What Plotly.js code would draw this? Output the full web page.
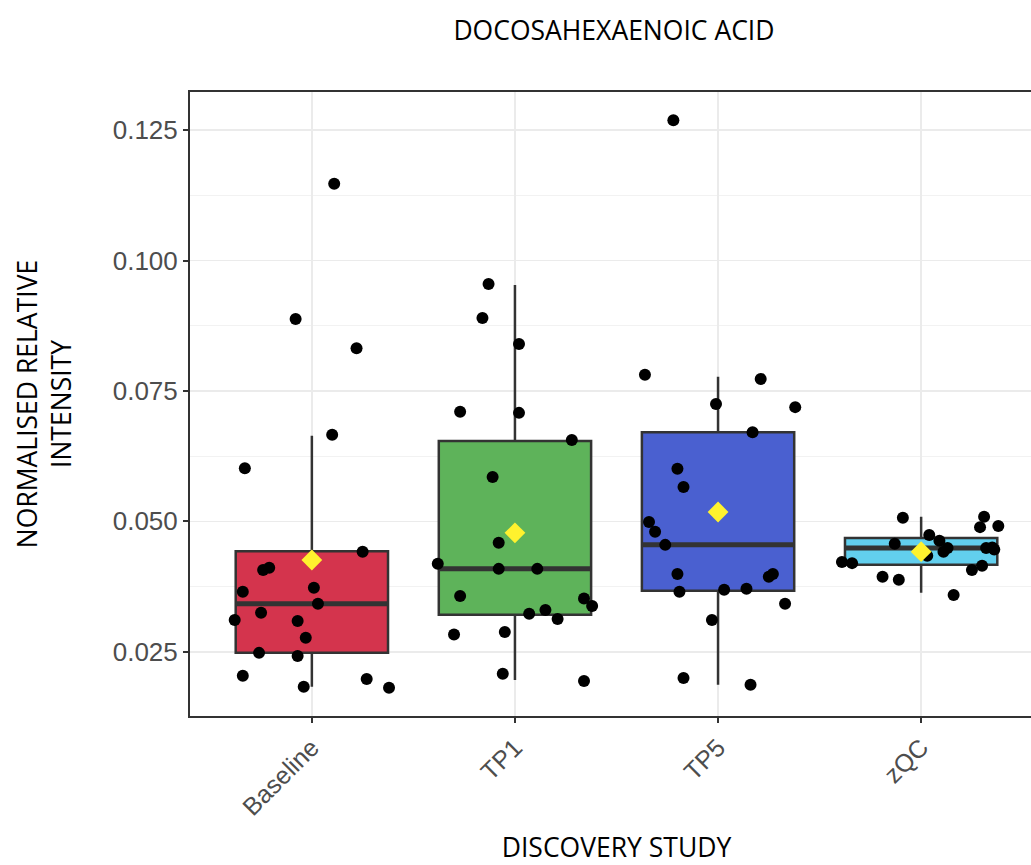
<!DOCTYPE html>
<html>
<head>
<meta charset="utf-8">
<script src="https://cdn.plot.ly/plotly-3.0.1.min.js"></script>
<style>
html, body { margin: 0; padding: 0; overflow: hidden; background: #fff; }
#chart { width: 1045px; height: 865px; }
</style>
</head>
<body>
<div id="chart"></div>
<script>
// Categories and tick labels
const categories = ["Baseline", "TP1", "TP5", "zQC"];
const boxColors = ["#D4344D", "#5EB35A", "#4A60D0", "#62CFEE"];

// Box summary statistics
const q1Values     = [0.0248, 0.0321, 0.0367, 0.0417];
const medianValues = [0.0342, 0.0409, 0.0455, 0.0449];
const q3Values     = [0.0443, 0.0654, 0.0671, 0.0468];
const lowerWhisker = [0.0183, 0.0196, 0.0187, 0.0363];
const upperWhisker = [0.0664, 0.0953, 0.0777, 0.0509];
const meanValues   = [0.0426, 0.0478, 0.0518, 0.0442];

// Individual samples (values) and their horizontal jitter offsets (category units)
const baselineValues = [0.1147, 0.0888, 0.0832, 0.0666, 0.0602, 0.0442, 0.0407, 0.0411, 0.0365, 0.0373, 0.0342,
                        0.0325, 0.0311, 0.0309, 0.0277, 0.0248, 0.0242, 0.0204, 0.0183, 0.0198, 0.0181];
const baselineJitter = [0.11, -0.08, 0.22, 0.10, -0.33, 0.25, -0.24, -0.21, -0.34, 0.01, 0.03,
                        -0.25, -0.38, -0.07, -0.03, -0.26, -0.07, -0.34, -0.04, 0.27, 0.38];

const tp1Values = [0.0955, 0.0890, 0.0840, 0.0710, 0.0708, 0.0656, 0.0585, 0.0459, 0.0419, 0.0409, 0.0409,
                   0.0357, 0.0352, 0.0338, 0.0323, 0.0330, 0.0313, 0.0283, 0.0288, 0.0208, 0.0194];
const tp1Jitter = [-0.13, -0.16, 0.02, -0.27, 0.02, 0.28, -0.11, -0.08, -0.38, -0.08, 0.11,
                   -0.27, 0.34, 0.38, 0.07, 0.15, 0.21, -0.30, -0.05, -0.06, 0.34];

const tp5Values = [0.1269, 0.0781, 0.0773, 0.0725, 0.0719, 0.0671, 0.0601, 0.0566, 0.0499, 0.0480, 0.0455,
                   0.0399, 0.0365, 0.0369, 0.0371, 0.0394, 0.0399, 0.0342, 0.0311, 0.0200, 0.0187];
const tp5Jitter = [-0.22, -0.36, 0.21, -0.01, 0.38, 0.17, -0.20, -0.17, -0.34, -0.31, -0.26,
                   -0.20, -0.19, 0.03, 0.14, 0.25, 0.27, 0.33, -0.03, -0.17, 0.16];

const zqcValues = [0.0507, 0.0509, 0.0489, 0.0491, 0.0474, 0.0463, 0.0449, 0.0442, 0.0457, 0.0434,
                   0.0449, 0.0450, 0.0422, 0.0420, 0.0407, 0.0415, 0.0394, 0.0388, 0.0359, 0.0446];
const zqcJitter = [-0.09, 0.31, 0.29, 0.38, 0.04, 0.09, 0.13, 0.11, -0.13, 0.03,
                   0.32, 0.35, -0.39, -0.34, 0.25, 0.30, -0.19, -0.11, 0.16, 0.36];

const sampleValues = [baselineValues, tp1Values, tp5Values, zqcValues];
const sampleJitter = [baselineJitter, tp1Jitter, tp5Jitter, zqcJitter];

const yTickVals = [0.025, 0.050, 0.075, 0.100, 0.125];
const yTickText = ["0.025", "0.050", "0.075", "0.100", "0.125"];

const BOX_WIDTH = 0.75;
const traces = [];

// Boxes
categories.forEach((cat, i) => {
  traces.push({
    type: "box",
    name: cat,
    x: [i],
    q1: [q1Values[i]],
    median: [medianValues[i]],
    q3: [q3Values[i]],
    lowerfence: [lowerWhisker[i]],
    upperfence: [upperWhisker[i]],
    width: BOX_WIDTH,
    whiskerwidth: 0,
    boxpoints: false,
    fillcolor: boxColors[i],
    line: { color: "#333333", width: 2.5 },
    hoverinfo: "skip",
    showlegend: false
  });
});

// Thick median lines (ggplot style)
categories.forEach((cat, i) => {
  traces.push({
    type: "scatter",
    mode: "lines",
    x: [i - BOX_WIDTH / 2, i + BOX_WIDTH / 2],
    y: [medianValues[i], medianValues[i]],
    line: { color: "#333333", width: 5 },
    hoverinfo: "skip",
    showlegend: false
  });
});

// Jittered sample points
categories.forEach((cat, i) => {
  traces.push({
    type: "scatter",
    mode: "markers",
    x: sampleValues[i].map((v, k) => i + sampleJitter[i][k]),
    y: sampleValues[i],
    marker: { color: "#000000", size: 12 },
    hoverinfo: "y",
    showlegend: false
  });
});

// Mean diamonds
traces.push({
  type: "scatter",
  mode: "markers",
  x: categories.map((c, i) => i),
  y: meanValues,
  marker: { color: "#FFF22E", size: 16, symbol: "diamond" },
  hoverinfo: "y",
  showlegend: false
});

const titleFont = { family: "Open Sans, sans-serif", size: 26.5, color: "#000000" };

const layout = {
  width: 1045,
  height: 865,
  paper_bgcolor: "#ffffff",
  plot_bgcolor: "#ffffff",
  margin: { l: 190, r: 2, t: 92, b: 149 },
  title: {
    text: "DOCOSAHEXAENOIC ACID",
    font: titleFont,
    x: 0.5875,
    xanchor: "center",
    y: 0.965,
    yanchor: "middle"
  },
  xaxis: {
    range: [-0.6, 3.6],
    tickmode: "array",
    tickvals: categories.map((c, i) => i),
    ticktext: categories,
    tickangle: -45,
    tickfont: { family: "Liberation Sans, Arial, sans-serif", size: 25, color: "#4D4D4D" },
    ticks: "outside",
    ticklen: 5,
    tickwidth: 2,
    tickcolor: "#333333",
    showgrid: true,
    gridcolor: "#EBEBEB",
    gridwidth: 1.5,
    zeroline: false,
    showline: true,
    linecolor: "#333333",
    linewidth: 2,
    mirror: true,
    title: { text: "DISCOVERY STUDY", font: titleFont, standoff: 26 }
  },
  yaxis: {
    range: [0.0127, 0.1323],
    tickmode: "array",
    tickvals: yTickVals,
    ticktext: yTickText,
    tickfont: { family: "Liberation Sans, Arial, sans-serif", size: 26, color: "#4D4D4D" },
    ticks: "outside",
    ticklen: 5,
    tickwidth: 2,
    tickcolor: "#333333",
    showgrid: true,
    gridcolor: "#EBEBEB",
    gridwidth: 1.5,
    minor: { dtick: 0.0125, tick0: 0.0125, showgrid: true, gridcolor: "#F2F2F2", gridwidth: 1, ticks: "" },
    zeroline: false,
    showline: true,
    linecolor: "#333333",
    linewidth: 2,
    mirror: true,
    title: { text: "NORMALISED RELATIVE<br>INTENSITY", font: titleFont, standoff: 33 }
  }
};

Plotly.newPlot("chart", traces, layout, { displayModeBar: false, staticPlot: true });
</script>
</body>
</html>
